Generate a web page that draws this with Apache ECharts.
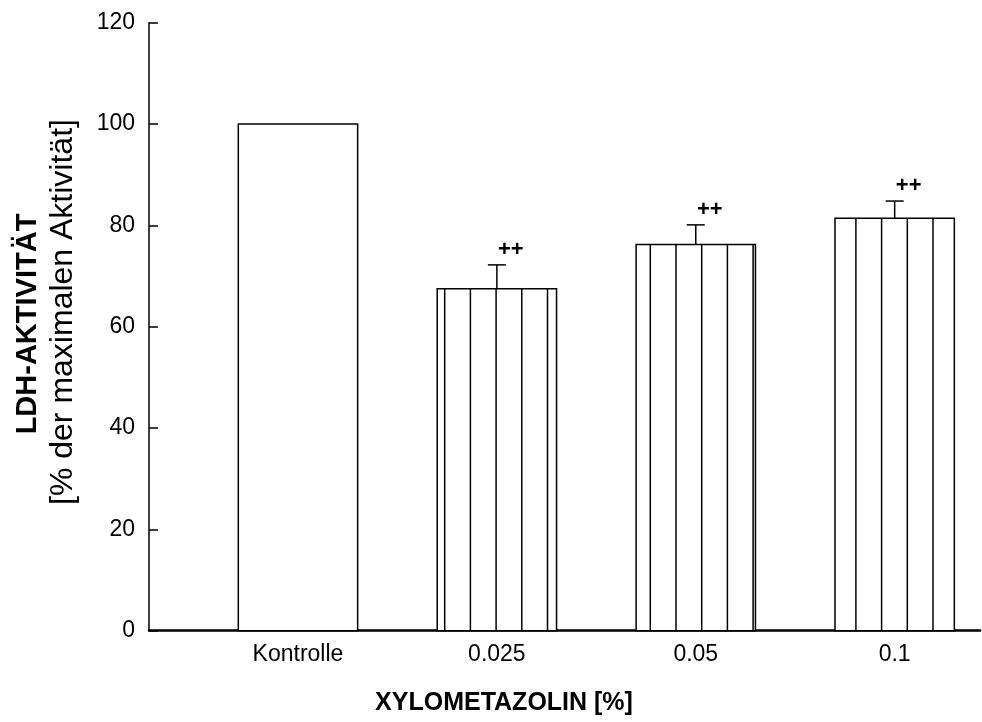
<!DOCTYPE html>
<html>
<head>
<meta charset="utf-8">
<script src="https://cdn.jsdelivr.net/npm/echarts@6/dist/echarts.min.js"></script>
<style>
html,body{margin:0;padding:0;background:#fff;}
#c{width:982px;height:722px;}
</style>
</head>
<body>
<div id="c"></div>
<script>
// ---- data ----
const categories = ['Kontrolle', '0.025', '0.05', '0.1'];
const means = [100, 67.5, 76.2, 81.4];
const upper = [null, 72.2, 80.1, 84.8];
const marks = ['', '++', '++', '++'];
const yTicks = [0, 20, 40, 60, 80, 100, 120];

const FONT = '"Liberation Sans", Arial, sans-serif';

// vertical hatch pattern (anchored at canvas origin)
const pc = document.createElement('canvas');
pc.width = 257; pc.height = 8;
const g = pc.getContext('2d');
g.fillStyle = '#fff'; g.fillRect(0, 0, pc.width, pc.height);
g.strokeStyle = '#000'; g.lineWidth = 1.5;
for (let k = 0; k < 10; k++) {
  const x = 7.8 + k * 25.7;
  g.beginPath(); g.moveTo(x, 0); g.lineTo(x, pc.height); g.stroke();
}
const hatch = { image: pc, repeat: 'repeat' };

const errData = [];
categories.forEach((c, i) => {
  if (upper[i] != null) errData.push([i, means[i], upper[i]]);
});

const chart = echarts.init(document.getElementById('c'), null, { renderer: 'canvas' });

const option = {
  animation: false,
  backgroundColor: '#fff',
  grid: { left: 149, right: 2, top: 22.7, bottom: 91.3 },
  xAxis: {
    type: 'value',
    min: -0.749,
    max: 3.429,
    splitLine: { show: false },
    axisTick: { show: false },
    axisLine: { show: true, onZero: false, lineStyle: { color: '#000', width: 2.5 } },
    axisLabel: {
      customValues: categories.map((c, i) => i),
      formatter: v => categories[Math.round(v)],
      color: '#000',
      fontFamily: FONT,
      fontSize: 23,
      margin: 12
    }
  },
  yAxis: {
    type: 'value',
    min: 0,
    max: 120,
    interval: 20,
    splitLine: { show: false },
    axisLine: { show: true, onZero: false, lineStyle: { color: '#000', width: 1.5 } },
    axisTick: { show: true, inside: true, length: 9, lineStyle: { color: '#000', width: 1.5 } },
    axisLabel: {
      color: '#000',
      fontFamily: FONT,
      fontSize: 23,
      margin: 14,
      formatter: v => (yTicks.indexOf(v) >= 0 ? String(v) : '')
    }
  },
  graphic: [
    {
      type: 'text', x: 504, y: 703,
      style: { text: 'XYLOMETAZOLIN [%]', font: 'bold 25px ' + FONT, fill: '#000', align: 'center', verticalAlign: 'middle' }
    },
    {
      type: 'text', x: 28, y: 324, rotation: Math.PI / 2,
      style: { text: 'LDH-AKTIVITÄT', font: 'bold 29px ' + FONT, fill: '#000', align: 'center', verticalAlign: 'middle' }
    },
    {
      type: 'text', x: 63, y: 312, rotation: Math.PI / 2,
      style: { text: '[% der maximalen Aktivität]', font: '32px ' + FONT, fill: '#000', align: 'center', verticalAlign: 'middle' }
    }
  ],
  series: [
    {
      type: 'custom',
      data: categories.map((c, i) => [i, means[i]]),
      renderItem: function (params, api) {
        const x = api.value(0), y = api.value(1);
        const top = api.coord([x, y]);
        const base = api.coord([x, 0]);
        const w = api.size([0.6, 0])[0];
        return {
          type: 'rect',
          shape: { x: top[0] - w / 2, y: top[1], width: w, height: base[1] - top[1] },
          style: { fill: params.dataIndex === 0 ? '#fff' : hatch, stroke: '#000', lineWidth: 1.5 }
        };
      },
      z: 2
    },
    {
      type: 'custom',
      data: errData,
      renderItem: function (params, api) {
        const x = api.value(0);
        const p0 = api.coord([x, api.value(1)]);
        const p1 = api.coord([x, api.value(2)]);
        const mark = marks[Math.round(x)];
        return {
          type: 'group',
          children: [
            { type: 'line', shape: { x1: p0[0], y1: p0[1], x2: p1[0], y2: p1[1] }, style: { stroke: '#000', lineWidth: 1.5 } },
            { type: 'line', shape: { x1: p1[0] - 9, y1: p1[1], x2: p1[0] + 9, y2: p1[1] }, style: { stroke: '#000', lineWidth: 1.5 } },
            { type: 'text', x: p1[0] + 14, y: p1[1] - 15,
              style: { text: mark, font: 'bold 22px ' + FONT, fill: '#000', align: 'center', verticalAlign: 'middle' } }
          ]
        };
      },
      z: 3
    }
  ]
};
chart.setOption(option);
</script>
</body>
</html>
